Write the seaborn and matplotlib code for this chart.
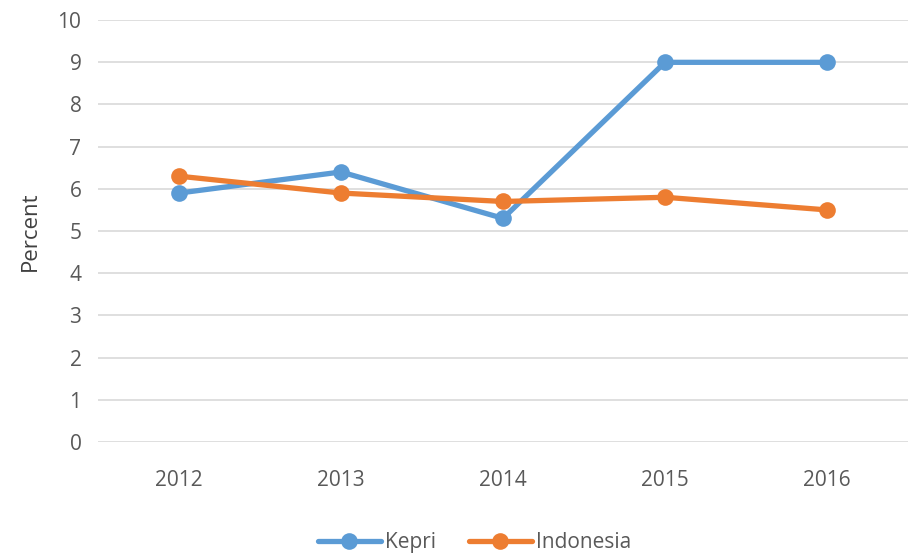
import matplotlib
matplotlib.use("Agg")
import matplotlib.pyplot as plt
import seaborn as sns
import pandas as pd

# values
years = ["2012", "2013", "2014", "2015", "2016"]
kepri = [5.9, 6.4, 5.3, 9.0, 9.0]
indonesia = [6.3, 5.9, 5.7, 5.8, 5.5]

df = pd.DataFrame({
    "Year": years * 2,
    "Percent": kepri + indonesia,
    "Region": ["Kepri"] * len(years) + ["Indonesia"] * len(years),
})

sns.set_style("white")
plt.rcParams["font.family"] = ["Open Sans", "DejaVu Sans"]

fig = plt.figure(figsize=(9.08, 5.6), dpi=100)
ax = fig.add_axes([0.108, 0.211, 0.892, 0.753])

palette = {"Kepri": "#5B9BD5", "Indonesia": "#ED7D31"}
sns.lineplot(data=df, x="Year", y="Percent", hue="Region", palette=palette,
             marker="o", markersize=12, markeredgewidth=0, linewidth=3.8,
             sort=False, ax=ax)

ax.set_xlim(-0.5, 4.5)
ax.set_ylim(0, 10)
ax.set_yticks(range(0, 11))
ax.grid(axis="y", color="#D9D9D9", linewidth=1.2)
ax.set_axisbelow(True)
for s in ax.spines.values():
    s.set_visible(False)

ax.tick_params(axis="both", length=0, labelsize=15, colors="#595959", pad=12)
ax.tick_params(axis="x", pad=20)
ax.set_xlabel("")
ax.set_ylabel("Percent", fontsize=16, color="#404040", labelpad=12)

ax.legend(title=None, loc="upper center", bbox_to_anchor=(0.465, -0.17), ncol=2,
          frameon=False, fontsize=15, labelcolor="#595959", handlelength=3,
          columnspacing=1.6, handletextpad=0.2)

fig.savefig("out.png", dpi=100)
